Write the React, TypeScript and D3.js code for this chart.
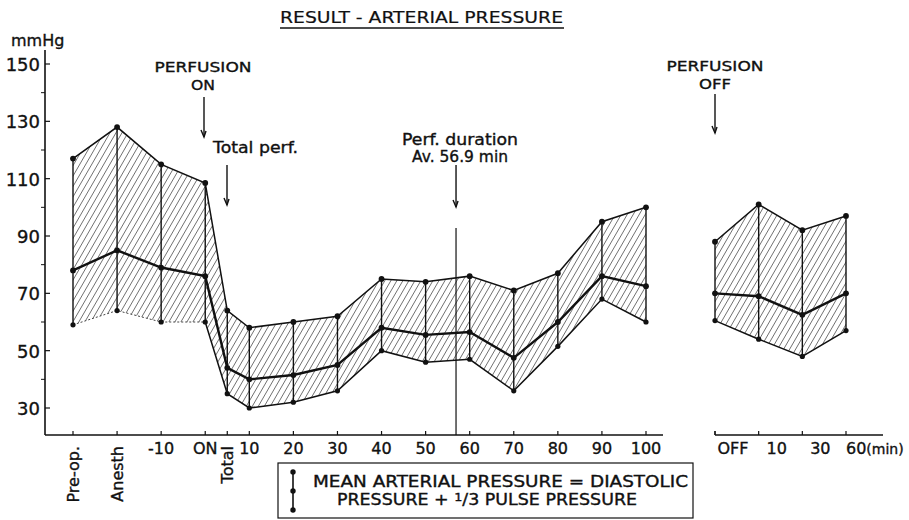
import React from "react";
import * as d3 from "d3";

const leftLabels = ["Pre-op.", "Anesth", "-10", "ON", "Total", "10", "20", "30", "40", "50", "60", "70", "80", "90", "100"];
const leftSys = [117, 128, 115, 108.5, 64, 58, 60, 62, 75, 74, 76, 71, 77, 95, 100];
const leftMean = [78, 85, 79, 76, 44, 40, 41.5, 45, 58, 55.5, 56.5, 47.5, 60, 76, 72.5];
const leftDia = [59, 64, 60, 60, 35, 30, 32, 36, 50, 46, 47, 36, 51.5, 68, 60];

const rightLabels = ["OFF", "10", "30", "60"];
const rightSys = [88, 101, 92, 97];
const rightMean = [70, 69, 62.5, 70];
const rightDia = [60.5, 54, 48, 57];

const yTicks = [30, 50, 70, 90, 110, 130, 150];
const yMinor = [40, 60, 80, 100, 120, 140];
const rotatedLabels = ["Pre-op.", "Anesth", "Total"];
const perfDuration = 56.9;

const FONT = "DejaVu Sans, Verdana, sans-serif";
const TS = { fill: "#111", stroke: "#111", strokeWidth: 0.35 } as const;

export default function App() {
  const W = 909, H = 520;
  const y = d3.scaleLinear().domain([30, 150]).range([408, 64]);
  const xLin = d3.scaleLinear().domain([0, 13]).range([73, 646]);
  const leftIdx = (i: number) => (i <= 3 ? i : i === 4 ? 3.5 : i - 1);
  const xL = (i: number) => xLin(leftIdx(i));
  const xR = d3.scalePoint<string>().domain(rightLabels).range([715, 846]);
  const xMin = (m: number) => xLin(3 + m / 10);

  const leftPts = leftLabels.map((l, i) => ({ x: xL(i), s: leftSys[i], m: leftMean[i], d: leftDia[i] }));
  const rightPts = rightLabels.map((l, i) => ({ x: xR(l) as number, s: rightSys[i], m: rightMean[i], d: rightDia[i] }));

  const area = d3.area<any>().x((p) => p.x).y0((p) => y(p.d)).y1((p) => y(p.s));
  const lineS = d3.line<any>().x((p) => p.x).y((p) => y(p.s));
  const lineM = d3.line<any>().x((p) => p.x).y((p) => y(p.m));
  const lineD = d3.line<any>().x((p) => p.x).y((p) => y(p.d));

  const baseY = 435;

  const panel = (pts: any[], key: string, dottedDiaUntil: number) => (
    <g key={key}>
      <path d={area(pts) || ""} fill="url(#hatch)" stroke="none" />
      {pts.map((p, i) => (
        <line key={"v" + i} x1={p.x} x2={p.x} y1={y(p.d)} y2={y(p.s)} stroke="#111" strokeWidth={1.4} />
      ))}
      <path d={lineS(pts) || ""} fill="none" stroke="#111" strokeWidth={1.5} />
      {dottedDiaUntil > 0 && (
        <path d={lineD(pts.slice(0, dottedDiaUntil + 1)) || ""} fill="none" stroke="#444" strokeWidth={1} strokeDasharray="2,2" />
      )}
      <path d={lineD(pts.slice(dottedDiaUntil)) || ""} fill="none" stroke="#111" strokeWidth={1.5} />
      <path d={lineM(pts) || ""} fill="none" stroke="#111" strokeWidth={2.4} />
      {pts.map((p, i) => (
        <g key={"d" + i}>
          <circle cx={p.x} cy={y(p.s)} r={2.9} fill="#111" />
          <circle cx={p.x} cy={y(p.m)} r={2.9} fill="#111" />
          <circle cx={p.x} cy={y(p.d)} r={2.6} fill="#111" />
        </g>
      ))}
    </g>
  );

  const arrow = (x: number, y1: number, y2: number, k: string) => (
    <g key={k} stroke="#111" strokeWidth={1.4} fill="none">
      <line x1={x} x2={x} y1={y1} y2={y2} />
      <path d={`M${x - 3},${y2 - 7} L${x},${y2} L${x + 2},${y2 - 6}`} />
    </g>
  );

  const xDur = xMin(perfDuration);

  return (
    <svg width={W} height={H} style={{ position: "absolute", left: 0, top: 0, background: "#fff" }} fontFamily={FONT}>
      <defs>
        <pattern id="hatch" width={5.2} height={10} patternUnits="userSpaceOnUse" patternTransform="rotate(30)">
          <line x1={0} y1={-1} x2={0} y2={11} stroke="#111" strokeWidth={1.05} />
        </pattern>
      </defs>
      <rect width={W} height={H} fill="#fff" />

      {/* title */}
      <text x={280} y={23} fontSize={16} {...TS} strokeWidth={0.2} textLength={283} lengthAdjust="spacingAndGlyphs">RESULT - ARTERIAL PRESSURE</text>
      <line x1={280} x2={564} y1={28} y2={28} stroke="#111" strokeWidth={1.4} />

      {/* y axis */}
      <text x={11} y={46} fontSize={16} {...TS}>mmHg</text>
      <line x1={45} x2={45} y1={50} y2={baseY} stroke="#111" strokeWidth={1.6} />
      {yTicks.map((t) => (
        <g key={"yt" + t}>
          <line x1={45} x2={50} y1={y(t)} y2={y(t)} stroke="#111" strokeWidth={1.2} />
          <text x={40} y={y(t) + 7} fontSize={18} textAnchor="end" {...TS}>{t}</text>
        </g>
      ))}
      {yMinor.map((t) => (
        <line key={"ym" + t} x1={41} x2={45} y1={y(t)} y2={y(t)} stroke="#111" strokeWidth={1} />
      ))}

      {/* x axes */}
      <line x1={45} x2={663} y1={baseY} y2={baseY} stroke="#111" strokeWidth={1.6} />
      <line x1={715} x2={883} y1={baseY} y2={baseY} stroke="#111" strokeWidth={1.6} />
      <line x1={715} x2={715} y1={baseY - 4} y2={baseY} stroke="#111" strokeWidth={1.3} />
      {leftLabels.map((l, i) => {
        const x = xL(i);
        const rot = rotatedLabels.includes(l);
        return (
          <g key={"xl" + i}>
            <line x1={x} x2={x} y1={baseY - 4} y2={baseY} stroke="#111" strokeWidth={1.2} />
            {rot ? (
              <text transform={`translate(${x + 6},${baseY + 11}) rotate(-90)`} fontSize={16} textAnchor="end" {...TS}>{l}</text>
            ) : (
              <text x={x} y={baseY + 19} fontSize={16} textAnchor="middle" {...TS}>{l}</text>
            )}
          </g>
        );
      })}
      {rightLabels.map((l, i) => {
        const x = xR(l) as number;
        const last = i === rightLabels.length - 1;
        return (
          <g key={"xr" + i}>
            <line x1={x} x2={x} y1={baseY - 4} y2={baseY} stroke="#111" strokeWidth={1.2} />
            {last ? (
              <text x={x} y={baseY + 19} fontSize={16} {...TS}>{l}<tspan fontSize={14}>(min)</tspan></text>
            ) : (
              <text x={x + 18} y={baseY + 19} fontSize={16} textAnchor="middle" {...TS}>{l}</text>
            )}
          </g>
        );
      })}

      {/* data */}
      {panel(leftPts, "left", 3)}
      {panel(rightPts, "right", 0)}

      {/* perfusion duration line */}
      <line x1={xDur} x2={xDur} y1={228} y2={baseY} stroke="#111" strokeWidth={1.2} />
      {arrow(xDur, 165, 207, "adur")}
      <text x={xDur + 4} y={145} fontSize={15} textAnchor="middle" {...TS} textLength={116} lengthAdjust="spacingAndGlyphs">Perf. duration</text>
      <text x={xDur + 4} y={162} fontSize={15} textAnchor="middle" {...TS} textLength={96} lengthAdjust="spacingAndGlyphs">Av. 56.9 min</text>

      {/* annotations */}
      <text x={203} y={72} fontSize={14} textAnchor="middle" {...TS} textLength={97} lengthAdjust="spacingAndGlyphs">PERFUSION</text>
      <text x={203} y={90} fontSize={14} textAnchor="middle" {...TS} textLength={24} lengthAdjust="spacingAndGlyphs">ON</text>
      {arrow(204, 97, 137, "aon")}
      <text x={213} y={153} fontSize={15} {...TS} textLength={85} lengthAdjust="spacingAndGlyphs">Total perf.</text>
      {arrow(227, 165, 205, "atot")}
      <text x={715} y={71} fontSize={14} textAnchor="middle" {...TS} textLength={97} lengthAdjust="spacingAndGlyphs">PERFUSION</text>
      <text x={715} y={89} fontSize={14} textAnchor="middle" {...TS} textLength={32} lengthAdjust="spacingAndGlyphs">OFF</text>
      {arrow(715, 94, 133, "aoff")}

      {/* legend */}
      <rect x={278} y={463} width={415} height={55} fill="none" stroke="#111" strokeWidth={1.2} />
      <line x1={293} x2={293} y1={472} y2={510} stroke="#111" strokeWidth={1.6} />
      <circle cx={293} cy={472} r={2.7} fill="#111" />
      <circle cx={293} cy={491} r={2.7} fill="#111" />
      <circle cx={293} cy={510} r={2.7} fill="#111" />
      <text x={313} y={487} fontSize={15} {...TS} textLength={375} lengthAdjust="spacingAndGlyphs">MEAN ARTERIAL PRESSURE = DIASTOLIC</text>
      <text x={337} y={505} fontSize={15} {...TS} textLength={300} lengthAdjust="spacingAndGlyphs">PRESSURE + <tspan fontSize={11} dy={-4}>1</tspan><tspan dy={4}>/3 PULSE PRESSURE</tspan></text>
    </svg>
  );
}
